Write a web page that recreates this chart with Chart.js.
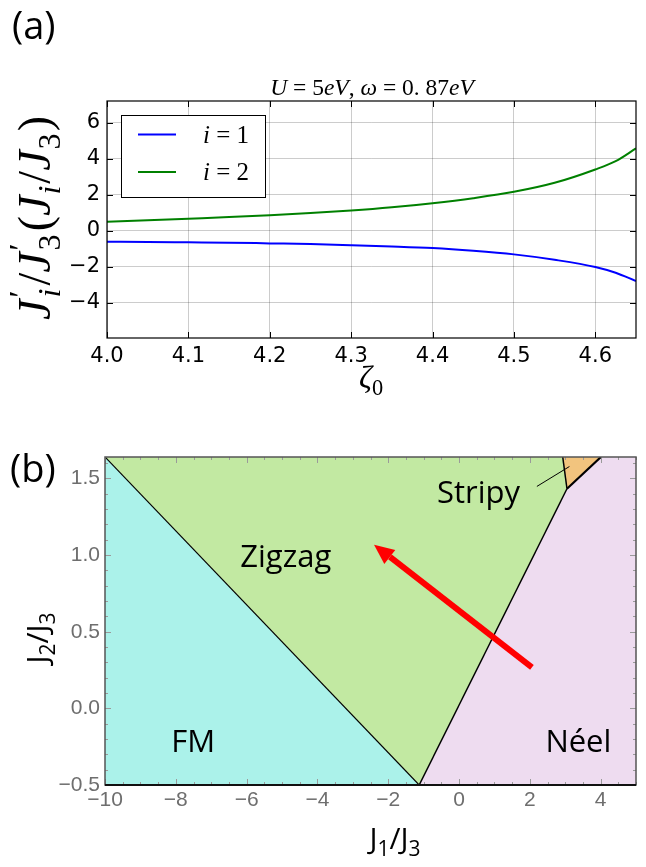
<!DOCTYPE html>
<html>
<head>
<meta charset="utf-8">
<script src="https://cdn.jsdelivr.net/npm/chart.js@4.4.0/dist/chart.umd.min.js"></script>
<style>
  html, body { margin: 0; padding: 0; background: #fff; }
  #wrap { position: relative; width: 646px; height: 867px; }
  canvas { position: absolute; left: 0; }
  #chart-a { top: 0; }
  #chart-b { top: 430px; }
</style>
</head>
<body>
<div id="wrap">
  <canvas id="chart-a" width="646" height="430"></canvas>
  <canvas id="chart-b" width="646" height="437"></canvas>
</div>
<script>
// (a) exchange ratios vs zeta0
const zeta0 = [4.0, 4.05, 4.1, 4.15, 4.2, 4.25, 4.3, 4.35, 4.4, 4.45, 4.5, 4.55, 4.6, 4.625, 4.65];
const ratioI1 = [-0.61, -0.62, -0.64, -0.66, -0.70, -0.74, -0.80, -0.87, -0.96, -1.11, -1.31, -1.61, -2.01, -2.33, -2.79];
const ratioI2 = [0.50, 0.58, 0.67, 0.76, 0.86, 0.98, 1.12, 1.30, 1.53, 1.81, 2.16, 2.66, 3.40, 3.86, 4.57];
const zetaTicks = [4.0, 4.1, 4.2, 4.3, 4.4, 4.5, 4.6];
const ratioTicks = [-4, -2, 0, 2, 4, 6];
const seriesLabels = ['1', '2'];

// (b) phase diagram in the J1/J3 - J2/J3 plane
const j1Ticks = [-10, -8, -6, -4, -2, 0, 2, 4];
const j2Ticks = [-0.5, 0.0, 0.5, 1.0, 1.5];
const fmRegion = [[-10, -0.5], [-10, 1.64], [-1.125, -0.5]];
const zigzagRegion = [[-10, 1.64], [2.93, 1.64], [3.05, 1.433], [-1.125, -0.5]];
const stripyRegion = [[2.93, 1.64], [4.01, 1.64], [3.05, 1.433]];
const neelRegion = [[-1.125, -0.5], [3.05, 1.433], [4.01, 1.64], [5, 1.64], [5, -0.5]];
const fmZigzagEdge = [[-10, 1.64], [-1.125, -0.5]];
const zigzagNeelEdge = [[-1.125, -0.5], [3.05, 1.433]];
const stripyZigzagEdge = [[2.93, 1.64], [3.05, 1.433]];
const stripyNeelEdge = [[3.05, 1.433], [4.01, 1.64]];
const stripyPointer = [[2.20, 1.448], [3.12, 1.578]];
const arrowShaft = [[2.06, 0.267], [-1.95, 0.988]];
const arrowHead = [[-2.40, 1.068], [-1.80, 1.034], [-2.11, 0.942]];
const phaseNames = ['Zigzag', 'Stripy', 'FM', 'Néel'];
const phaseLabelAt = [[-6.18, 0.92], [-0.62, 1.337], [-8.13, -0.285], [2.44, -0.285]];

const pts = arr => arr.map(p => ({ x: p[0], y: p[1] }));
const minus = s => String(s).replace('-', '\u2212');

// draws a run of text pieces with sub/superscripts, left-to-right
function drawRich(ctx, parts, x, y, size, family, align) {
  const items = [];
  let total = 0;
  parts.forEach(p => {
    const s = (p.sub || p.sup) ? size * 0.7 : size;
    ctx.font = (p.it ? 'italic ' : '') + s + 'px ' + family;
    const w = ctx.measureText(p.t).width + (p.gap || 0);
    const dy = p.sub ? size * 0.22 : (p.sup ? -size * 0.42 : 0);
    if (p.under && items.length) {
      const prev = items[items.length - 1];
      items.push({ p, s, w, dy, x: prev.x });
      total += Math.max(0, w - prev.w);
    } else {
      items.push({ p, s, w, dy, x: total + (p.lead || 0) });
      total += w + (p.lead || 0);
    }
  });
  const x0 = align === 'center' ? x - total / 2 : x;
  ctx.textAlign = 'left';
  ctx.textBaseline = 'alphabetic';
  items.forEach(it => {
    ctx.font = (it.p.it ? 'italic ' : '') + it.s + 'px ' + family;
    ctx.fillText(it.p.t, x0 + it.x, y + it.dy);
  });
}

const serif = '"Liberation Serif", "DejaVu Serif", serif';
const sans = '"Open Sans", "DejaVu Sans", sans-serif';

const decorA = {
  id: 'decorA',
  afterDraw(chart) {
    const ctx = chart.ctx;
    const a = chart.chartArea;
    const xs = chart.scales.x, ys = chart.scales.y;
    ctx.save();
    // frame
    ctx.strokeStyle = '#000';
    ctx.lineWidth = 1.2;
    ctx.strokeRect(a.left, a.top, a.right - a.left, a.bottom - a.top);
    // inward ticks on all four sides
    ctx.lineWidth = 1;
    ctx.beginPath();
    zetaTicks.forEach(v => {
      const px = Math.round(xs.getPixelForValue(v)) + 0.5;
      ctx.moveTo(px, a.bottom); ctx.lineTo(px, a.bottom - 6);
      ctx.moveTo(px, a.top); ctx.lineTo(px, a.top + 6);
    });
    ratioTicks.forEach(v => {
      const py = Math.round(ys.getPixelForValue(v)) + 0.5;
      ctx.moveTo(a.left, py); ctx.lineTo(a.left + 6, py);
      ctx.moveTo(a.right, py); ctx.lineTo(a.right - 6, py);
    });
    ctx.stroke();

    // legend
    const colors = chart.data.datasets.map(d => d.borderColor);
    ctx.fillStyle = '#fff';
    ctx.fillRect(121, 115, 144, 82);
    ctx.strokeStyle = '#000';
    ctx.lineWidth = 1;
    ctx.strokeRect(121.5, 115.5, 144, 82);
    seriesLabels.forEach((lab, i) => {
      const yy = 134.5 + i * 37.5;
      ctx.strokeStyle = colors[i];
      ctx.lineWidth = 2;
      ctx.beginPath(); ctx.moveTo(138, yy); ctx.lineTo(176, yy); ctx.stroke();
      ctx.fillStyle = '#000';
      drawRich(ctx, [{ t: 'i', it: true }, { t: ' = ' + lab }], 203, yy + 8, 25, serif, 'left');
    });

    ctx.fillStyle = '#000';
    // title
    drawRich(ctx, [
      { t: 'U', it: true }, { t: ' = 5' }, { t: 'eV', it: true }, { t: ', ' },
      { t: 'ω', it: true }, { t: ' = 0. 87' }, { t: 'eV', it: true }
    ], 372, 95, 23.5, serif, 'center');
    // x title
    drawRich(ctx, [{ t: 'ζ', it: true }, { t: '0', sub: true }], 371, 388, 32, serif, 'center');
    // y title
    ctx.save();
    ctx.translate(50, 218);
    ctx.rotate(-Math.PI / 2);
    drawRich(ctx, [
      { t: 'J', it: true }, { t: '′', sup: true, lead: 2 }, { t: 'i', sub: true, it: true, under: true },
      { t: '/', lead: 3 },
      { t: 'J', it: true }, { t: '′', sup: true, lead: 2 }, { t: '3', sub: true, under: true },
      { t: '(', lead: 3 }, { t: 'J', it: true }, { t: 'i', sub: true, it: true, lead: 1 },
      { t: '/', lead: 2 }, { t: 'J', it: true }, { t: '3', sub: true, lead: 1 }, { t: ')', lead: 2 }
    ], 0, 0, 46, serif, 'center');
    ctx.restore();
    // panel tag
    ctx.font = '38px ' + sans;
    ctx.textAlign = 'left';
    ctx.textBaseline = 'alphabetic';
    ctx.fillText('(a)', 12, 39);
    ctx.restore();
  }
};

new Chart(document.getElementById('chart-a'), {
  type: 'line',
  data: {
    datasets: [
      { label: 'i=1', data: zeta0.map((z, k) => ({ x: z, y: ratioI1[k] })), borderColor: '#0000ff', borderWidth: 2, pointRadius: 0, cubicInterpolationMode: 'monotone', fill: false },
      { label: 'i=2', data: zeta0.map((z, k) => ({ x: z, y: ratioI2[k] })), borderColor: '#008000', borderWidth: 2, pointRadius: 0, cubicInterpolationMode: 'monotone', fill: false }
    ]
  },
  options: {
    responsive: false,
    animation: false,
    layout: { padding: { top: 101, right: 10, left: 0, bottom: 0 } },
    plugins: { legend: { display: false }, tooltip: { enabled: false } },
    scales: {
      x: {
        type: 'linear', min: 4.0, max: 4.65,
        afterBuildTicks: s => { s.ticks = zetaTicks.map(v => ({ value: v })); },
        afterFit: s => { s.height = 92; },
        grid: { color: 'rgba(0,0,0,0.2)', drawTicks: false },
        border: { display: false },
        ticks: { color: '#000', padding: 6, font: { family: '"DejaVu Sans"', size: 21 }, callback: v => v.toFixed(1), maxRotation: 0 }
      },
      y: {
        type: 'linear', min: -5.95, max: 7.2,
        afterBuildTicks: s => { s.ticks = ratioTicks.map(v => ({ value: v })); },
        afterFit: s => { s.width = 107; },
        grid: { color: 'rgba(0,0,0,0.2)', drawTicks: false },
        border: { display: false },
        ticks: { color: '#000', padding: 7, font: { family: '"DejaVu Sans"', size: 21 }, callback: v => minus(v) }
      }
    }
  },
  plugins: [decorA]
});

const decorB = {
  id: 'decorB',
  afterDraw(chart) {
    const ctx = chart.ctx;
    const a = chart.chartArea;
    const xs = chart.scales.x, ys = chart.scales.y;
    ctx.save();
    // tick marks, major and minor, on all four sides
    ctx.strokeStyle = '#9a9a9a';
    ctx.lineWidth = 1;
    ctx.beginPath();
    for (let v = -10; v <= 5.001; v += 0.5) {
      const major = j1Ticks.some(t => Math.abs(t - v) < 1e-6);
      const len = major ? 6 : 3;
      const px = Math.round(xs.getPixelForValue(v)) + 0.5;
      ctx.moveTo(px, a.bottom); ctx.lineTo(px, a.bottom - len);
      ctx.moveTo(px, a.top); ctx.lineTo(px, a.top + len);
    }
    for (let v = -0.5; v <= 1.64; v += 0.1) {
      const major = j2Ticks.some(t => Math.abs(t - v) < 1e-6);
      const len = major ? 6 : 3;
      const py = Math.round(ys.getPixelForValue(v)) + 0.5;
      ctx.moveTo(a.left, py); ctx.lineTo(a.left + len, py);
      ctx.moveTo(a.right, py); ctx.lineTo(a.right - len, py);
    }
    ctx.stroke();
    // frame
    ctx.strokeStyle = '#555';
    ctx.lineWidth = 1.5;
    ctx.strokeRect(a.left, a.top, a.right - a.left, a.bottom - a.top);
    ctx.strokeStyle = '#111';
    ctx.lineWidth = 2;
    ctx.beginPath(); ctx.moveTo(a.left, a.bottom); ctx.lineTo(a.right, a.bottom); ctx.stroke();

    // phase names
    ctx.fillStyle = '#000';
    ctx.font = '31px ' + sans;
    ctx.textAlign = 'left';
    ctx.textBaseline = 'alphabetic';
    phaseNames.forEach((name, i) => {
      const [x, y] = phaseLabelAt[i];
      ctx.fillText(name, xs.getPixelForValue(x), ys.getPixelForValue(y));
    });
    // axis titles
    drawRich(ctx, [{ t: 'J' }, { t: '1', sub: true }, { t: '/J' }, { t: '3', sub: true }], 395, 419, 30, sans, 'center');
    ctx.save();
    ctx.translate(48, 208);
    ctx.rotate(-Math.PI / 2);
    drawRich(ctx, [{ t: 'J' }, { t: '2', sub: true }, { t: '/J' }, { t: '3', sub: true }], 0, 0, 30, sans, 'center');
    ctx.restore();
    // panel tag
    ctx.font = '38px ' + sans;
    ctx.fillText('(b)', 10, 52);
    ctx.restore();
  }
};

const region = (data, color) => ({ data: pts(data), showLine: true, fill: 'shape', backgroundColor: color, borderWidth: 0, pointRadius: 0, tension: 0 });
const edge = (data, width, color) => ({ data: pts(data), showLine: true, fill: false, borderColor: color || '#000', borderWidth: width, pointRadius: 0, tension: 0, borderCapStyle: 'butt' });

new Chart(document.getElementById('chart-b'), {
  type: 'scatter',
  data: {
    datasets: [
      region(arrowHead, '#ff0000'),
      edge(arrowShaft, 6, '#ff0000'),
      edge(stripyPointer, 1),
      edge(stripyNeelEdge, 2.2),
      edge(stripyZigzagEdge, 1.5),
      edge(zigzagNeelEdge, 1.5),
      edge(fmZigzagEdge, 1.2),
      region(stripyRegion, '#f2c47e'),
      region(neelRegion, '#eedcf0'),
      region(zigzagRegion, '#c2e9a2'),
      region(fmRegion, '#abf2ea')
    ]
  },
  options: {
    responsive: false,
    animation: false,
    layout: { padding: { top: 27, right: 10, left: 0, bottom: 0 } },
    plugins: { legend: { display: false }, tooltip: { enabled: false } },
    scales: {
      x: {
        type: 'linear', min: -10, max: 5,
        afterBuildTicks: s => { s.ticks = j1Ticks.map(v => ({ value: v })); },
        afterFit: s => { s.height = 82; },
        grid: { display: false, drawTicks: false },
        border: { display: false },
        ticks: { color: '#6e6e6e', padding: 3, font: { family: '"Liberation Sans"', size: 21 }, callback: v => minus(v), maxRotation: 0 }
      },
      y: {
        type: 'linear', min: -0.5, max: 1.64,
        afterBuildTicks: s => { s.ticks = j2Ticks.map(v => ({ value: v })); },
        afterFit: s => { s.width = 105; },
        grid: { display: false, drawTicks: false },
        border: { display: false },
        ticks: { color: '#6e6e6e', padding: 5, font: { family: '"Liberation Sans"', size: 21 }, callback: v => minus(v.toFixed(1)) }
      }
    }
  },
  plugins: [decorB]
});
</script>
</body>
</html>
